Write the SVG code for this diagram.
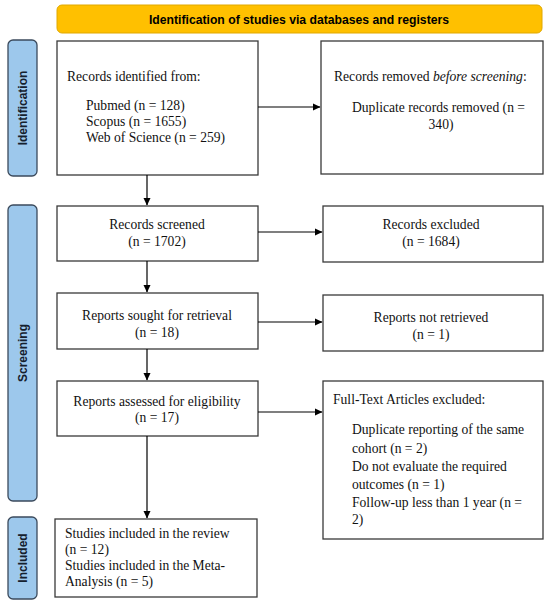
<svg xmlns="http://www.w3.org/2000/svg" width="550" height="606" viewBox="0 0 550 606">
<defs>
<marker id="ah" markerWidth="8" markerHeight="8" refX="7" refY="4" orient="auto" markerUnits="userSpaceOnUse">
<path d="M0,0.5 L7.5,4 L0,7.5 Z" fill="#000"/>
</marker>
<style>
.box{fill:#fff;stroke:#3a3a3a;stroke-width:1.3}
.side{fill:#9DC8EC;stroke:#3B4A5C;stroke-width:1.3}
.hdr{fill:#FFC000;stroke:#E0A800;stroke-width:1}
.t{font-family:"Liberation Serif","Times New Roman",serif;font-size:13.6px;fill:#111}
.c{text-anchor:middle}
.lab{font-family:"Liberation Sans",Arial,sans-serif;font-size:12px;font-weight:bold;fill:#15202e;text-anchor:middle}
.con{stroke:#000;stroke-width:1.2;fill:none;marker-end:url(#ah)}
</style>
</defs>
<rect width="550" height="606" fill="#fff"/>
<g id="header">
<rect class="hdr" x="57" y="5" width="485" height="28" rx="5"/>
<text class="lab" x="299" y="23.5" style="fill:#000;font-size:12.2px">Identification of studies via databases and registers</text>
</g>
<g id="side-identification">
<rect class="side" x="8" y="40" width="29" height="136" rx="5"/>
<text class="lab" transform="translate(26.5,108) rotate(-90)">Identification</text>
</g>
<g id="side-screening">
<rect class="side" x="8" y="205" width="29" height="296" rx="5"/>
<text class="lab" transform="translate(26.5,353) rotate(-90)">Screening</text>
</g>
<g id="side-included">
<rect class="side" x="8" y="517" width="29" height="82" rx="5"/>
<text class="lab" transform="translate(26.5,558) rotate(-90)">Included</text>
</g>
<g id="records-identified">
<rect class="box" x="57" y="41" width="201" height="134"/>
<text class="t" x="67" y="81">Records identified from:</text>
<text class="t" x="86" y="110">Pubmed (n = 128)</text>
<text class="t" x="86" y="126">Scopus (n = 1655)</text>
<text class="t" x="86" y="142">Web of Science (n = 259)</text>
</g>
<g id="records-removed">
<rect class="box" x="321" y="41" width="222" height="133"/>
<text class="t" x="334" y="81">Records removed <tspan font-style="italic">before screening</tspan>:</text>
<text class="t" x="352" y="112">Duplicate records removed  (n =</text>
<text class="t c" x="441" y="129">340)</text>
</g>
<g id="records-screened">
<rect class="box" x="57" y="206" width="201" height="55"/>
<text class="t c" x="157" y="229">Records screened</text>
<text class="t c" x="157" y="246">(n = 1702)</text>
</g>
<g id="records-excluded">
<rect class="box" x="323" y="206" width="220" height="56"/>
<text class="t c" x="431" y="229">Records excluded</text>
<text class="t c" x="431" y="246">(n = 1684)</text>
</g>
<g id="reports-sought">
<rect class="box" x="57" y="293" width="201" height="56"/>
<text class="t c" x="157" y="320">Reports sought for retrieval</text>
<text class="t c" x="157" y="337">(n = 18)</text>
</g>
<g id="reports-not-retrieved">
<rect class="box" x="323" y="295" width="220" height="56"/>
<text class="t c" x="431" y="322">Reports not retrieved</text>
<text class="t c" x="431" y="339">(n = 1)</text>
</g>
<g id="reports-assessed">
<rect class="box" x="57" y="381" width="201" height="55"/>
<text class="t c" x="157" y="406">Reports assessed for eligibility</text>
<text class="t c" x="157" y="422">(n = 17)</text>
</g>
<g id="fulltext-excluded">
<rect class="box" x="323" y="381" width="220" height="158"/>
<text class="t" x="333" y="404">Full-Text Articles excluded:</text>
<text class="t" x="352" y="434">Duplicate reporting of the same</text>
<text class="t" x="352" y="453">cohort (n = 2)</text>
<text class="t" x="352" y="471">Do not evaluate the required</text>
<text class="t" x="352" y="489">outcomes (n = 1)</text>
<text class="t" x="352" y="507">Follow-up less than 1 year (n =</text>
<text class="t" x="352" y="524">2)</text>
</g>
<g id="studies-included">
<rect class="box" x="55" y="519" width="202" height="78"/>
<text class="t" x="65" y="538">Studies included in the review</text>
<text class="t" x="65" y="554">(n = 12)</text>
<text class="t" x="65" y="570">Studies included in the Meta-</text>
<text class="t" x="65" y="586">Analysis (n = 5)</text>
</g>
<g id="connectors">
<line class="con" x1="258" y1="107" x2="320" y2="107"/>
<line class="con" x1="147" y1="175" x2="147" y2="205"/>
<line class="con" x1="258" y1="232" x2="322" y2="232"/>
<line class="con" x1="147" y1="261" x2="147" y2="292"/>
<line class="con" x1="258" y1="322" x2="322" y2="322"/>
<line class="con" x1="147" y1="349" x2="147" y2="380"/>
<line class="con" x1="258" y1="412" x2="322" y2="412"/>
<line class="con" x1="147" y1="436" x2="147" y2="518"/>
</g>
</svg>
